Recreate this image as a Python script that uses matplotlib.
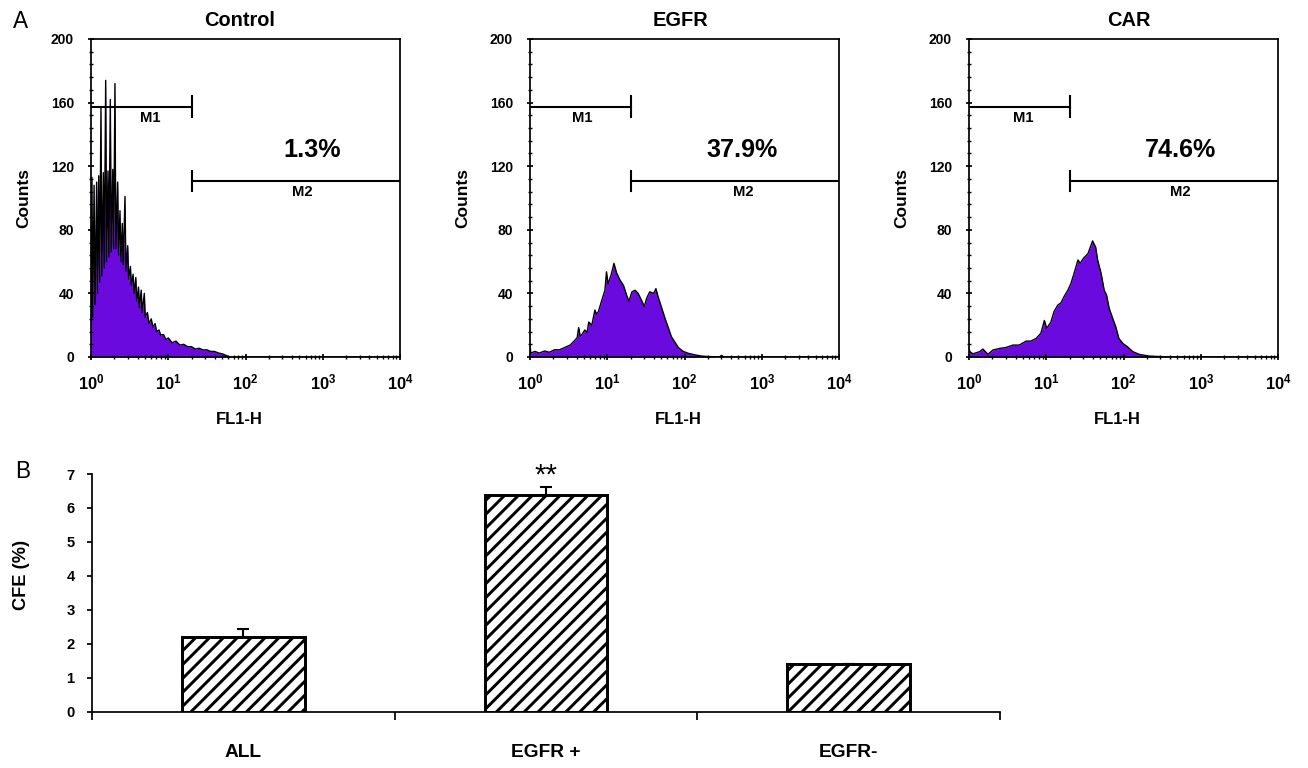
import numpy as np
import matplotlib
matplotlib.use("Agg")
import matplotlib.pyplot as plt
from matplotlib.ticker import FixedLocator, FixedFormatter, LogLocator, NullFormatter, MultipleLocator

# ---------------- data ----------------
panel_titles = ["Control", "EGFR", "CAR"]
percent_labels = ["1.3%", "37.9%", "74.6%"]

control_log10 = [0.000, 0.012, 0.022, 0.040, 0.052, 0.073, 0.085, 0.100, 0.112, 0.129,
                 0.140, 0.160, 0.172, 0.190, 0.202, 0.220, 0.232, 0.250, 0.262, 0.282,
                 0.294, 0.310, 0.322, 0.345, 0.357, 0.375, 0.387, 0.405, 0.417, 0.440,
                 0.452, 0.475, 0.487, 0.510, 0.522, 0.545, 0.557, 0.580, 0.592, 0.615,
                 0.627, 0.650, 0.662, 0.690, 0.702, 0.730, 0.750, 0.780, 0.800, 0.830,
                 0.850, 0.880, 0.900, 0.940, 0.970, 1.000, 1.050, 1.100, 1.150, 1.200,
                 1.250, 1.300, 1.350, 1.400, 1.450, 1.500, 1.550, 1.600, 1.650, 1.700,
                 1.750, 1.790, 4.000]
control_counts = [20, 113, 25, 108, 33, 110, 40, 114, 47, 157,
                  51, 116, 56, 174, 60, 117, 63, 162, 66, 118,
                  68, 172, 68, 110, 64, 92, 60, 84, 58, 101,
                  54, 70, 49, 57, 45, 52, 40, 50, 35, 44,
                  31, 42, 28, 40, 25, 28, 21, 24, 19, 21,
                  16, 17, 14, 14, 11, 12, 9, 10, 7.5, 8,
                  6.5, 6.5, 5, 5.5, 4.5, 4.5, 3.5, 3.5, 2.5, 2,
                  1, 0, 0]

egfr_log10 = [0.000, 0.010, 0.065, 0.120, 0.190, 0.250, 0.320, 0.380, 0.450, 0.520,
              0.580, 0.610, 0.630, 0.650, 0.670, 0.710, 0.740, 0.760, 0.800, 0.840,
              0.860, 0.885, 0.930, 0.970, 0.990, 1.010, 1.050, 1.087, 1.120, 1.165,
              1.210, 1.250, 1.280, 1.320, 1.360, 1.400, 1.450, 1.480, 1.510, 1.550,
              1.600, 1.630, 1.660, 1.700, 1.750, 1.790, 1.830, 1.880, 1.920, 1.980,
              2.050, 2.140, 2.220, 2.300, 2.450, 2.480, 2.510, 4.000]
egfr_counts = [8, 2.5, 3.5, 2.5, 3.8, 3, 4.6, 4.5, 6, 7.5,
               10.5, 12, 18.5, 13, 14, 17, 15.5, 22, 20, 29.5,
               27, 28.5, 35.8, 42, 53.6, 46, 51.6, 58.9, 53, 48.4,
               45, 39, 35, 41, 42, 40, 35, 31.7, 37, 41,
               40, 43, 37.6, 31.6, 24, 18.5, 12.8, 9, 6, 3.6,
               2.3, 1.3, 0.6, 0.3, 0, 1, 0, 0]

car_log10 = [0.000, 0.010, 0.050, 0.140, 0.180, 0.245, 0.310, 0.396, 0.480, 0.570,
             0.650, 0.740, 0.800, 0.870, 0.930, 0.976, 1.006, 1.060, 1.100, 1.150,
             1.190, 1.230, 1.280, 1.320, 1.360, 1.410, 1.440, 1.480, 1.540, 1.580,
             1.600, 1.640, 1.665, 1.710, 1.750, 1.780, 1.815, 1.860, 1.900, 1.940,
             1.990, 2.050, 2.120, 2.200, 2.330, 2.460, 2.600, 4.000]
car_counts = [6, 3.4, 2, 3.4, 5, 1.7, 4.4, 5.4, 6, 7.5,
              7.5, 10, 10, 11.7, 14.9, 23, 18, 22, 28.5, 32.7,
              34, 38, 42, 46.3, 52.6, 61, 59, 62, 65, 70.4,
              73, 69, 61, 52.6, 42, 39, 30.6, 24.3, 19, 11.7,
              8.6, 6.5, 3.4, 1.7, 0.6, 0.3, 0, 0]

# gate markers (FL1-H ranges and counts level)
m1_range = [1, 20]
m2_range = [20, 10000]
m1_level = 157.5
m2_level = 110.7

# panel B
categories = ["ALL", "EGFR +", "EGFR-"]
cfe_values = [2.2, 6.38, 1.4]
cfe_errors = [0.23, 0.23, 0.0]

# ---------------- style ----------------
plt.rcParams["font.family"] = ["Liberation Sans", "DejaVu Sans"]
plt.rcParams["mathtext.fontset"] = "custom"
plt.rcParams["mathtext.rm"] = "Liberation Sans:bold"
plt.rcParams["mathtext.it"] = "Liberation Sans:bold"
plt.rcParams["mathtext.bf"] = "Liberation Sans:bold"
plt.rcParams["hatch.linewidth"] = 1.7

W, H = 1308, 768
DPI = 125
fig = plt.figure(figsize=(W / DPI, H / DPI), dpi=DPI)
fig.patch.set_facecolor("white")

purple = "#6a0adf"

hist_data = [(control_log10, control_counts), (egfr_log10, egfr_counts), (car_log10, car_counts)]
lefts_px = [91, 530, 969]
title_x = [0.482, 0.488, 0.519]
pct_x = [725, 550, 550]
m1_text_x = [5.8, 4.8, 5.0]
m2_text_x = [537, 575, 550]

for i in range(3):
    ax = fig.add_axes([lefts_px[i] / W, (H - 357) / H, 309 / W, 318 / H])
    lg, cnt = hist_data[i]
    xs = np.power(10.0, np.array(lg))
    ys = np.array(cnt, dtype=float)
    ax.fill_between(xs, ys, 0, color=purple, linewidth=0, zorder=1)
    ax.plot(xs, ys, color="black", linewidth=0.8, zorder=2)
    ax.set_xscale("log")
    ax.set_xlim(1, 1e4)
    ax.set_ylim(0, 200)

    # gates
    ax.plot(m1_range, [m1_level, m1_level], color="black", lw=1.2, zorder=3)
    ax.plot([m1_range[1]] * 2, [m1_level - 6.5, m1_level + 6.5], color="black", lw=1.2, zorder=3)
    ax.plot(m2_range, [m2_level, m2_level], color="black", lw=1.2, zorder=3)
    ax.plot([m2_range[0]] * 2, [m2_level - 6.5, m2_level + 6.5], color="black", lw=1.2, zorder=3)
    ax.text(m1_text_x[i], 150, "M1", ha="center", va="center", fontsize=8.5, fontweight="bold")
    ax.text(m2_text_x[i], 104, "M2", ha="center", va="center", fontsize=8.5, fontweight="bold")
    ax.text(pct_x[i], 130, percent_labels[i], ha="center", va="center", fontsize=14.5,
            fontweight="bold")

    for s in ax.spines.values():
        s.set_linewidth(1.0)
        s.set_color("black")

    ax.xaxis.set_major_locator(FixedLocator([1, 10, 100, 1000, 10000]))
    ax.xaxis.set_major_formatter(FixedFormatter([r"$10^{0}$", r"$10^{1}$", r"$10^{2}$",
                                                 r"$10^{3}$", r"$10^{4}$"]))
    ax.xaxis.set_minor_locator(LogLocator(base=10, subs=np.arange(2, 10)))
    ax.xaxis.set_minor_formatter(NullFormatter())
    ax.yaxis.set_major_locator(FixedLocator([0, 40, 80, 120, 160, 200]))
    ax.yaxis.set_minor_locator(MultipleLocator(8))
    ax.tick_params(axis="x", which="major", direction="inout", length=4, width=1.0,
                   labelsize=9.5, pad=7)
    ax.tick_params(axis="x", which="minor", direction="inout", length=2.5, width=0.8)
    ax.tick_params(axis="y", which="major", direction="inout", length=3.5, width=1.0,
                   labelsize=8, pad=8)
    ax.tick_params(axis="y", which="minor", direction="inout", length=2, width=0.8)
    for lab in ax.get_yticklabels():
        lab.set_fontweight("bold")

    ax.text(title_x[i], 1.057, panel_titles[i], transform=ax.transAxes, ha="center",
            va="center", fontsize=11.5, fontweight="bold")
    ax.text(-0.218, 0.5, "Counts", transform=ax.transAxes, rotation=90, ha="center",
            va="center", fontsize=10, fontweight="bold")
    ax.text(0.48, -0.198, "FL1-H", transform=ax.transAxes, ha="center", va="center",
            fontsize=9.5, fontweight="bold")

fig.text(21 / W, 1 - 21 / H, "A", ha="center", va="center", fontsize=13)
fig.text(23 / W, 1 - 472 / H, "B", ha="center", va="center", fontsize=13)

# ---------------- panel B ----------------
axB = fig.add_axes([92 / W, (H - 711.7) / H, 908 / W, 237.7 / H])
xpos = np.arange(len(categories)) + 0.5
axB.bar(xpos, cfe_values, width=0.405, color="white", edgecolor="black", hatch="///",
        linewidth=1.7, zorder=2)
axB.errorbar(xpos, cfe_values, yerr=[np.zeros(len(cfe_errors)), cfe_errors], fmt="none",
             ecolor="black", elinewidth=1.2, capsize=3.5, capthick=1.2, zorder=1)
axB.set_xlim(0, 3)
axB.set_ylim(0, 7)
axB.spines["top"].set_visible(False)
axB.spines["right"].set_visible(False)
axB.spines["left"].set_linewidth(1.0)
axB.spines["bottom"].set_linewidth(1.0)
axB.yaxis.set_major_locator(FixedLocator(range(0, 8)))
axB.tick_params(axis="y", direction="out", length=3, width=1.0, labelsize=8.5, pad=7)
for lab in axB.get_yticklabels():
    lab.set_fontweight("bold")
axB.xaxis.set_major_locator(FixedLocator([0, 1, 2, 3]))
axB.xaxis.set_major_formatter(NullFormatter())
axB.xaxis.set_minor_locator(FixedLocator(list(xpos)))
axB.xaxis.set_minor_formatter(FixedFormatter(categories))
axB.tick_params(axis="x", which="major", direction="out", length=4.5, width=1.0)
axB.tick_params(axis="x", which="minor", length=0, labelsize=11, pad=18.5)
for lab in axB.get_xticklabels(minor=True):
    lab.set_fontweight("bold")
axB.text(-0.078, 0.575, "CFE (%)", transform=axB.transAxes, rotation=90, ha="center",
         va="center", fontsize=10.5, fontweight="bold")
axB.text(xpos[1], 6.95, "**", ha="center", va="center", fontsize=17)

fig.savefig("out.png", dpi=DPI, facecolor="white")
